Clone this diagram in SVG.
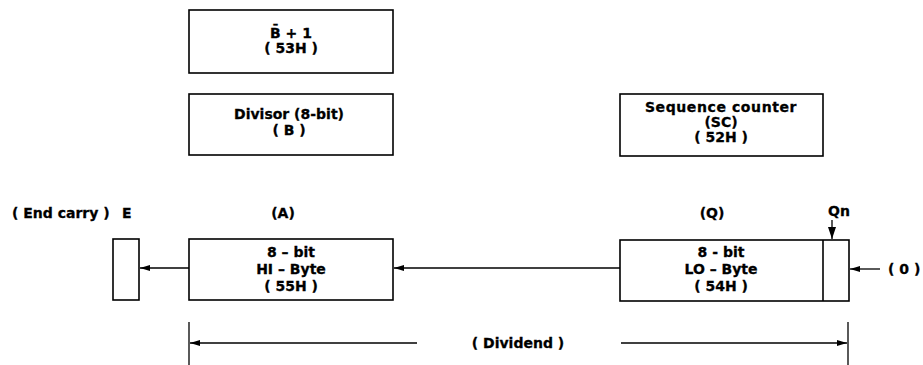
<svg xmlns="http://www.w3.org/2000/svg" width="923" height="365" viewBox="0 0 923 365">
<style>
.box{fill:#fff;stroke:#000;stroke-width:1.6}
.t{font-family:"DejaVu Sans",sans-serif;font-weight:bold;font-size:14px;fill:#000;stroke:#000;stroke-width:0.3;text-anchor:middle}
.tl{font-family:"DejaVu Sans",sans-serif;font-weight:bold;font-size:14px;fill:#000;stroke:#000;stroke-width:0.3}
.ln{stroke:#000;stroke-width:1.3;fill:none}
</style>
<defs>
<marker id="ah" markerUnits="userSpaceOnUse" markerWidth="10" markerHeight="8" refX="10" refY="4" orient="auto">
<path d="M0,1 L10,4 L0,7 Z" fill="#000"/>
</marker>
<marker id="ahb" markerUnits="userSpaceOnUse" markerWidth="12" markerHeight="10" refX="12" refY="5" orient="auto">
<path d="M0,1 L12,5 L0,9 Z" fill="#000"/>
</marker>
</defs>
<rect width="923" height="365" fill="#fff"/>
<g id="comp">
<rect class="box" x="189" y="10" width="204" height="63"/>
<text class="t" x="291" y="38">B̄ + 1</text>
<text class="t" x="291" y="53">( 53H )</text>
</g>
<g id="divisor">
<rect class="box" x="189" y="94" width="204" height="61"/>
<text class="t" x="289" y="119">Divisor (8-bit)</text>
<text class="t" x="289" y="135">( B )</text>
</g>
<g id="sc">
<rect class="box" x="620" y="94" width="203" height="62"/>
<text class="t" x="721" y="112" letter-spacing="0.6">Sequence counter</text>
<text class="t" x="721" y="127">(SC)</text>
<text class="t" x="721" y="142">( 52H )</text>
</g>
<g id="e">
<text class="tl" x="12" y="218">( End carry )</text>
<text class="tl" x="122" y="218">E</text>
<rect class="box" x="113" y="239" width="26" height="61"/>
</g>
<g id="a">
<text class="t" x="283" y="218">(A)</text>
<rect class="box" x="189" y="239" width="204" height="61"/>
<text class="t" x="291" y="257">8 – bit</text>
<text class="t" x="291" y="274">HI – Byte</text>
<text class="t" x="291" y="291">( 55H )</text>
</g>
<g id="q">
<text class="t" x="712" y="218">(Q)</text>
<text class="t" x="839" y="216">Qn</text>
<rect class="box" x="620" y="240" width="229" height="61"/>
<line class="box" x1="823" y1="240" x2="823" y2="301"/>
<text class="t" x="721" y="257">8 - bit</text>
<text class="t" x="721" y="274">LO – Byte</text>
<text class="t" x="721" y="291">( 54H )</text>
<text class="tl" x="888" y="274">( 0 )</text>
</g>
<g id="dividend">
<line class="ln" x1="189" y1="322" x2="189" y2="365"/>
<line class="ln" x1="848" y1="322" x2="848" y2="365"/>
<text class="t" x="518" y="348">( Dividend )</text>
</g>
<g id="connectors">
<line class="ln" x1="189" y1="268" x2="140" y2="268" marker-end="url(#ah)"/>
<line class="ln" x1="620" y1="268" x2="394" y2="268" marker-end="url(#ah)"/>
<line class="ln" x1="880" y1="269" x2="850" y2="269" marker-end="url(#ah)"/>
<line class="ln" x1="832" y1="220" x2="832" y2="239" stroke-width="2" marker-end="url(#ahb)"/>
<line class="ln" x1="417" y1="343" x2="190" y2="343" marker-end="url(#ah)"/>
<line class="ln" x1="621" y1="343" x2="847" y2="343" marker-end="url(#ah)"/>
</g>
</svg>
